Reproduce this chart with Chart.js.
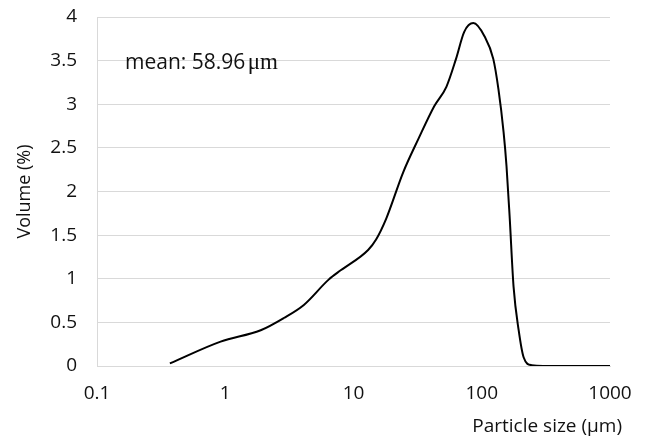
<!DOCTYPE html>
<html>

<head>
    <meta charset="utf-8">
    <title>Particle Size Distribution</title>
    <script src="https://cdn.jsdelivr.net/npm/chart.js"></script>
    <style>
        body {
            margin: 0;
            background: #fff;
        }

        #wrap {
            width: 645px;
            height: 439px;
        }
    </style>
</head>

<body>
    <div id="wrap"><canvas id="psd"></canvas></div>

    <script>
        // particle size (um) and volume (%)
        const sizes = [0.37, 0.92, 1.89, 2.86, 4.1, 6.4, 8.0, 13, 15, 18, 24.4, 32, 42.7, 53, 63, 73, 86,
            105, 123, 135, 148, 156, 165, 177, 194, 212, 245, 400, 1000];
        const volumes = [0.03, 0.28, 0.41, 0.55, 0.70, 0.99, 1.10, 1.33, 1.45, 1.69, 2.22, 2.60, 2.98, 3.20, 3.52, 3.83, 3.93,
            3.78, 3.52, 3.17, 2.68, 2.29, 1.71, 0.91, 0.41, 0.10, 0.01, 0, 0];
        const xTicks = [0.1, 1, 10, 100, 1000];
        const xTickLabels = ['0.1', '1', '10', '100', '1000'];
        const xTitle = 'Particle size (\u00b5m)';
        const meanLabel = 'mean: 58.96';
        const meanUnit = '\u03bcm';

        const font = "'Open Sans', sans-serif";
        const textColor = '#111';

        // mean annotation + x axis title (it runs past the plot's right edge)
        const notes = {
            id: 'notes',
            afterDraw(chart) {
                const ctx = chart.ctx;
                ctx.save();
                ctx.fillStyle = textColor;
                ctx.textBaseline = 'alphabetic';
                ctx.font = "21px " + font;
                ctx.fillText(meanLabel, 125, 69);
                const w = ctx.measureText(meanLabel + ' ').width;
                ctx.font = "23px 'Liberation Serif', serif";
                ctx.fillText(meanUnit, 125 + w - 3, 69);

                ctx.font = "19px " + font;
                ctx.textAlign = 'right';
                ctx.textBaseline = 'middle';
                ctx.fillText(xTitle, 622, 427);
                ctx.restore();
            }
        };

        new Chart(document.getElementById('psd'), {
            type: 'line',
            data: {
                datasets: [{
                    data: sizes.map((s, i) => ({ x: s, y: volumes[i] })),
                    borderColor: '#000',
                    borderWidth: 2,
                    pointRadius: 0,
                    cubicInterpolationMode: 'monotone',
                    fill: false
                }]
            },
            options: {
                responsive: true,
                maintainAspectRatio: false,
                animation: false,
                layout: { padding: { top: 17, right: 35, left: 0, bottom: 0 } },
                plugins: {
                    legend: { display: false },
                    tooltip: { enabled: false }
                },
                scales: {
                    x: {
                        type: 'logarithmic',
                        min: 0.1,
                        max: 1000,
                        afterBuildTicks: scale => {
                            scale.ticks = xTicks.map(v => ({ value: v }));
                        },
                        afterFit: scale => {
                            scale.height = 73;
                            scale.paddingLeft = 0;
                            scale.paddingRight = 0;
                        },
                        grid: { display: false, drawTicks: false },
                        border: { display: true, color: '#d9d9d9' },
                        ticks: {
                            padding: 16,
                            maxRotation: 0,
                            autoSkip: false,
                            color: textColor,
                            font: { family: font, size: 19 },
                            callback: (v) => {
                                const i = xTicks.indexOf(v);
                                return i >= 0 ? xTickLabels[i] : '';
                            }
                        }
                    },
                    y: {
                        min: 0,
                        max: 4,
                        afterFit: scale => {
                            scale.width = 97;
                            scale.paddingTop = 0;
                            scale.paddingBottom = 0;
                        },
                        grid: { color: '#d9d9d9', drawTicks: false },
                        border: { display: true, color: '#d9d9d9' },
                        ticks: {
                            stepSize: 0.5,
                            padding: 20,
                            color: textColor,
                            font: { family: font, size: 19 },
                            callback: v => String(v)
                        },
                        title: {
                            display: true,
                            text: 'Volume (%)',
                            color: textColor,
                            font: { family: font, size: 18 },
                            padding: { top: 14 }
                        }
                    }
                }
            },
            plugins: [notes]
        });
    </script>
</body>

</html>
